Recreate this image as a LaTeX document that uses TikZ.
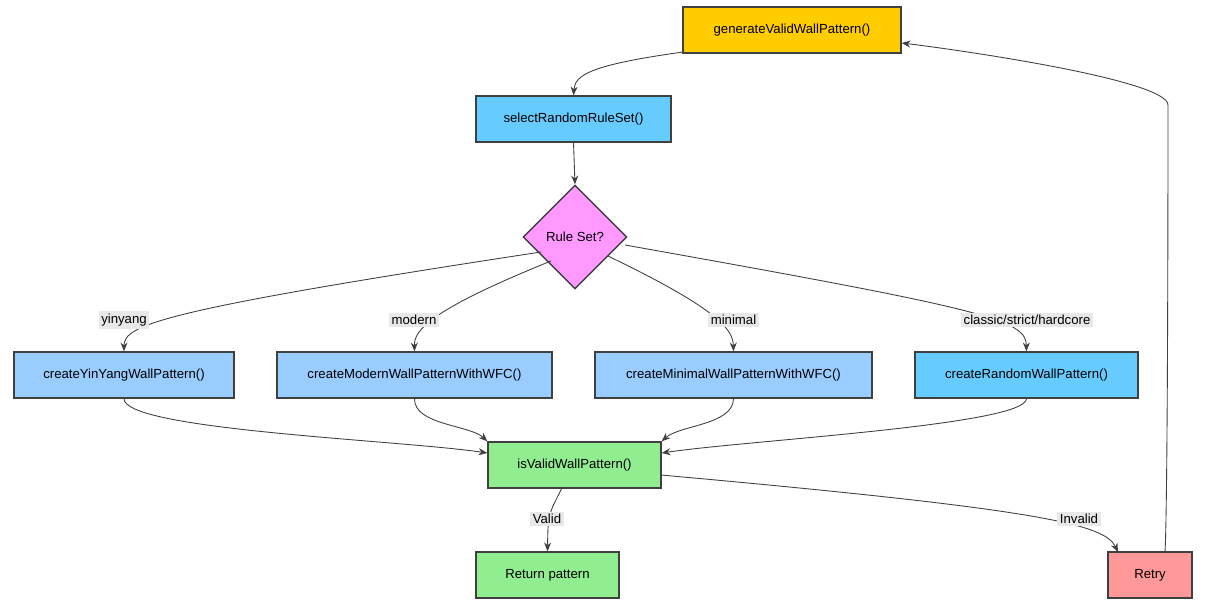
\documentclass[tikz,border=0pt]{standalone}
\usepackage{fontspec}
\setmainfont{Liberation Sans}
\usetikzlibrary{arrows.meta,shapes.geometric}
\definecolor{cGen}{HTML}{FFCC00}
\definecolor{cSel}{HTML}{66CCFF}
\definecolor{cPat}{HTML}{99CCFF}
\definecolor{cOk}{HTML}{90EE90}
\definecolor{cBad}{HTML}{FF9999}
\definecolor{cDia}{HTML}{FF99FF}
\definecolor{cLbl}{HTML}{E8E8E8}
\tikzset{
  box/.style = {draw = black!75, line width = .8pt, minimum height = .92cm, font = \fontsize{7.5}{9}\selectfont},
  dia/.style = {draw = black!75, line width = .8pt, diamond, minimum width = 2.08cm, minimum height = 2.08cm, inner sep = 0, font = \fontsize{7.5}{9}\selectfont},
  lbl/.style = {fill = cLbl, inner sep = 1.5pt, font = \fontsize{7.5}{9}\selectfont},
  arr/.style = {draw = black!75, line width = .5pt, -{Stealth[length = 5pt, width = 4pt]}}
}
\begin{document}
\begin{tikzpicture}[x = .02cm, y = -.02cm]
\useasboundingbox (0,0) rectangle (1205,609);
\node[box, fill = cGen, minimum width = 4.36cm] (gen) at (792,30) {generateValidWallPattern()};
\node[box, fill = cSel, minimum width = 3.9cm] (sel) at (573.5,119) {selectRandomRuleSet()};
\node[dia, fill = cDia] (rule) at (575,237) {Rule Set?};
\node[box, fill = cPat, minimum width = 4.4cm] (yin) at (124,375) {createYinYangWallPattern()};
\node[box, fill = cPat, minimum width = 5.5cm] (mod) at (414.5,375) {createModernWallPatternWithWFC()};
\node[box, fill = cPat, minimum width = 5.54cm] (min) at (733.5,375) {createMinimalWallPatternWithWFC()};
\node[box, fill = cSel, minimum width = 4.46cm] (rnd) at (1026.5,375) {createRandomWallPattern()};
\node[box, fill = cOk, minimum width = 3.46cm] (valid) at (574.5,465) {isValidWallPattern()};
\node[box, fill = cOk, minimum width = 2.86cm] (ret) at (547.5,575) {Return pattern};
\node[box, fill = cBad, minimum width = 1.68cm] (retry) at (1150,575) {Retry};

\draw[arr] (683,52) .. controls (590,65) and (575,75) .. (sel.north);
\draw[arr] (sel.south) -- (rule.north);

% branches
\draw[arr] (541,252) .. controls (160,310) and (124,325) .. (yin.north);
\draw[arr] (551,261) .. controls (430,310) and (414,330) .. (mod.north);
\draw[arr] (608,256) .. controls (720,310) and (733,330) .. (min.north);
\draw[arr] (625,245) .. controls (990,310) and (1026,320) .. (rnd.north);
\node[lbl] (lyin) at (124,320) {yinyang};
\node[lbl] (lmod) at (414,320) {modern};
\node[lbl] (lmin) at (733.5,320) {minimal};
\node[lbl] (lrnd) at (1027,320) {classic/strict/hardcore};

\draw[arr] (yin.south) .. controls (124,430) and (400,440) .. (valid.west |- 0,453);
\draw[arr] (mod.south) .. controls (414,425) and (470,425) .. (valid.north west);
\draw[arr] (min.south) .. controls (733,425) and (680,425) .. (valid.north east);
\draw[arr] (rnd.south) .. controls (1026,425) and (750,440) .. (valid.east |- 0,453);

\draw[arr] (562,488) .. controls (548,515) .. (ret.north);
\draw[arr] (661,475) .. controls (1050,510) and (1105,525) .. (1118,552);
\node[lbl] (lok) at (547,519) {Valid};
\node[lbl] (lbad) at (1079,519) {Invalid};

\draw[arr] (1165,552) .. controls (1168,500) and (1168,130) .. (1168,105) .. controls (1168,80) and (960,50) .. (gen.east |- 0,43);
\end{tikzpicture}
\end{document}
